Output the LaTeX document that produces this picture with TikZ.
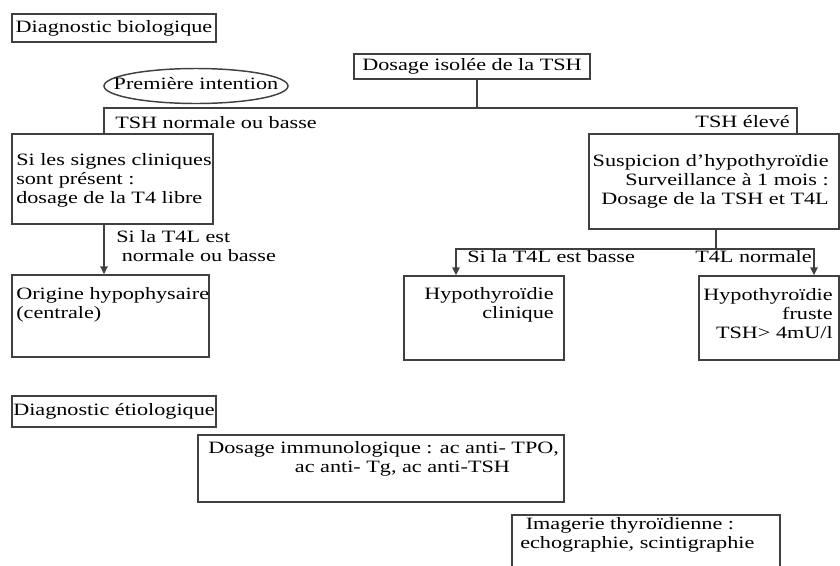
\documentclass[tikz,border=0pt]{standalone}
\usepackage{fontspec}
\setmainfont{Liberation Serif}[FakeStretch=1.28]
\usetikzlibrary{shapes.geometric, arrows.meta}

\begin{document}
\begin{tikzpicture}[x=0.75pt, y=-0.75pt,
    font=\fontsize{13}{14.25}\selectfont,
    box/.style={draw=black!75, line width=1.1pt, inner sep=0pt},
    txt/.style={inner sep=0pt, align=left},
    rtxt/.style={inner sep=0pt, align=right},
    link/.style={draw=black!75, line width=1.1pt},
    arr/.style={link, -{Triangle[length=6pt, width=5.5pt]}}
]
    \clip (0,0) rectangle (840,565);

    % Diagnostic biologique
    \node[box, minimum width=153pt, minimum height=21pt] (bio) at (114,28) {Diagnostic biologique};
    \node[box, minimum width=177pt, minimum height=18.75pt] (tsh) at (472,66.5) {Dosage isolée de la TSH};
    \node[box, ellipse, minimum width=138pt, minimum height=26.25pt] (intent) at (196,86) {};
    \node[txt] (intent-t) at (196,84) {Première intention};

    % First level boxes (base = last line)
    \node[box, minimum width=150.75pt, minimum height=67.5pt] (signes) at (112.5,179) {};
    \node[txt, anchor=base west] (signes-t) at (16,203.5) {Si les signes cliniques\\sont présent :\\dosage de la T4 libre};
    \node[box, minimum width=187.5pt, minimum height=71.25pt] (susp) at (714,181.5) {};
    \node[rtxt, anchor=base east] (susp-t) at (829,204.5) {Suspicion d’hypothyroïdie\\Surveillance à 1 mois :\\Dosage de la TSH et T4L};

    % Split under the TSH
    \coordinate (split) at (477,108);
    \coordinate (lc) at (104,108);
    \coordinate (rc) at (797,108);
    \draw[link] (tsh.south -| split) -- (split);
    \draw[link] (signes.north -| lc) -- (lc) -- (rc) -- (susp.north -| rc);
    \node[txt, anchor=base west] (lab-nb) at (115,128.5) {TSH normale ou basse};
    \node[txt, anchor=base east] (lab-el) at (790,127.5) {TSH élevé};

    % Left branch
    \node[box, minimum width=147.75pt, minimum height=61.5pt] (origine) at (110.5,316) {};
    \node[txt, anchor=base west] (origine-t) at (16,318.5) {Origine hypophysaire\\(centrale)};
    \draw[arr] (signes.south -| lc) -- (origine.north -| lc);
    \node[txt, anchor=base west] (lab-t4l) at (116,261.5) {Si la T4L est\\\ normale ou basse};

    % Right branch
    \node[box, minimum width=120pt, minimum height=63pt] (clin) at (484,318) {};
    \node[rtxt, anchor=base east] (clin-t) at (554,318.5) {Hypothyroïdie\\clinique};
    \node[box, minimum width=105pt, minimum height=63pt] (fruste) at (769,318) {};
    \node[rtxt, anchor=base east] (fruste-t) at (833,338.5) {Hypothyroïdie\\fruste\\TSH> 4mU/l};
    \coordinate (split2) at (716,249);
    \coordinate (la) at (456,249);
    \coordinate (lb) at (814,249);
    \draw[link] (susp.south -| split2) -- (split2);
    \draw[arr] (split2) -- (la) -- (clin.north -| la);
    \draw[arr] (split2) -- (lb) -- (fruste.north -| lb);
    \node[txt, anchor=base west] (lab-basse) at (467,262.5) {Si la T4L est basse};
    \node[txt, anchor=base east] (lab-norm) at (812,262.5) {T4L normale};

    % Diagnostic etiologique
    \node[box, minimum width=153pt, minimum height=23.25pt] (etio) at (114,411.5) {Diagnostic étiologique};
    \node[box, minimum width=274.5pt, minimum height=50.25pt] (immuno) at (381,468.5) {};
    \node[txt, anchor=base west] (immuno-t) at (208,472.5) {Dosage immunologique : ac anti- TPO,\\\hspace*{65pt}ac anti- Tg, ac anti-TSH};
    \node[box, minimum width=201pt, minimum height=48.75pt] (imag) at (646,547.5) {};
    \node[txt, anchor=base west] (imag-t) at (520,548.5) {\ Imagerie thyroïdienne :\\echographie, scintigraphie};
\end{tikzpicture}
\end{document}
